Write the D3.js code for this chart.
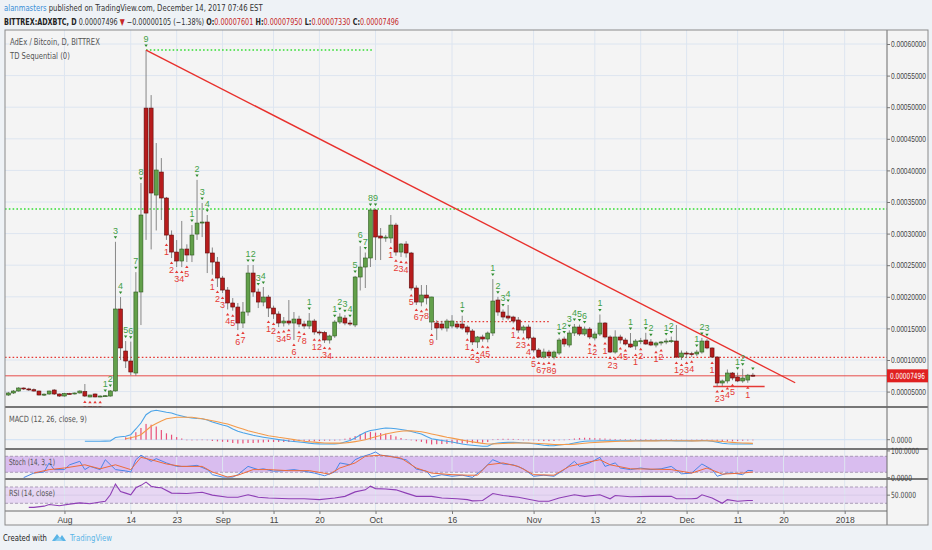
<!DOCTYPE html>
<html><head><meta charset="utf-8">
<script src="https://cdn.jsdelivr.net/npm/d3@7"></script>
<style>
body{margin:0;background:#eef2f6;}
svg{display:block;font-family:'Liberation Sans Narrow','DejaVu Sans Condensed','Liberation Sans',sans-serif;}
</style></head>
<body><svg id="c" width="932" height="550"></svg>
<script>
// ---------------- DATA (prices in satoshi = 1e-8 BTC) ----------------
const firstDay = "2017-07-21";
const opens = [4460,4780,5090,5570,5420,5300,5090,4460,4620,5250,4620,4300,4700,4650,4780,5000,4150,4620,4150,4300,
4300,5100,18070,11420,9840,7940,20760,49860,49860,36100,39740,35630,29770,27080,25660,27560,26610,29930,31670,31830,
26930,25500,22970,21070,19020,18380,15850,17590,23760,20760,19170,19960,18220,17280,15850,16170,15850,16480,15690,15380,
16170,14430,14350,13160,13800,16010,16640,15850,15540,23130,24710,26140,33730,29620,29300,29300,31350,27080,28350,26930,
21390,19170,20280,16010,15850,15690,15060,15380,15690,15690,15220,14590,12850,13640,13320,14270,19490,17590,16960,16800,
16330,14740,15220,13480,11580,10470,11260,10470,11100,13320,12370,14270,15220,14110,14900,13480,14110,15850,13640,11260,
13640,13160,12530,12210,13000,13160,12850,12370,12690,12850,13000,13000,10470,11100,11000,10950,11260,13000,11900,10470,
6360,6680,7940,7310,6680,6830,7601];
const highs = [4950,5250,5700,5650,5600,5500,5150,4700,5150,5400,4700,4800,4800,4850,5200,6200,4500,4700,4400,4450,
5250,28700,19960,13000,12900,23900,38000,59040,51920,44330,41950,35800,30500,28980,32000,28300,31350,38500,34840,32940,
27800,26300,23300,21550,19800,19020,19170,25030,25030,21300,21550,20300,18600,17700,16800,19490,17590,17000,16200,17430,
16500,14700,14600,14000,16300,17400,17100,16300,23300,28000,27000,33900,33900,30880,29800,32940,31700,28500,28800,27100,
21800,21860,21860,20000,16300,16200,16500,17100,16100,17000,15500,14900,13800,14000,14500,22810,20000,18000,18700,17000,
16800,15500,15600,13700,11900,11800,11600,11500,13500,13700,14700,15700,15600,15300,15200,14500,17200,16000,13900,14700,
14000,13500,14270,13300,13500,14300,13300,12900,13000,13400,13700,15540,11500,11400,11300,11600,13500,13300,12000,10600,
6900,8500,8100,8000,8600,7800,7950];
const lows = [4300,4620,5000,5250,5100,5000,4400,4300,4500,4460,4150,4200,4550,4550,4700,4150,4100,4100,4100,4200,
4200,5000,10000,8730,7600,7500,15530,29000,27500,30500,32150,29000,26130,24710,24700,25500,25500,29000,29450,23760,
23500,21550,20600,18000,17800,14740,15060,17000,20000,18220,18500,16800,16500,15200,15300,15500,13160,15200,14900,14900,
14000,13900,12700,12600,13500,15700,15500,15400,15200,21000,21390,24710,25820,25820,28700,28500,26500,26300,26200,21000,
18700,18500,18800,14740,13160,14700,14500,15000,14900,14800,14000,12370,11900,12900,12800,13800,17000,16300,16300,15800,
14300,14200,13200,11200,10300,10200,10300,10100,10800,12100,12000,13800,13800,13800,13300,13100,13800,13400,11100,11000,
12600,12300,11900,11600,12500,12400,12200,12000,12300,12500,12700,10300,10000,10300,10500,10600,11000,11700,10300,5800,
5880,6300,6800,6500,6400,6400,7330];
const closes = [4780,5090,5570,5420,5300,5090,4460,4600,5090,4620,4300,4700,4650,4780,5090,4300,4460,4150,4300,4350,
5100,18070,11900,9840,8100,20760,32940,33250,36420,40060,35630,29770,27080,25660,27560,26610,29770,31670,31830,26930,
25500,22970,21070,19020,18380,15850,17590,23760,20760,19170,19960,18220,17280,15850,16170,15850,16480,15690,15380,16170,
14430,14350,13160,13800,16010,16800,15850,15700,23130,24710,26140,33730,29460,29300,29450,31350,27080,28350,26930,21390,
19170,20280,19810,19970,15060,15060,16170,16170,15220,15060,14430,12850,13640,13320,14270,19330,17590,16800,16640,16170,
14740,15220,13480,11580,10470,11260,10630,11260,13160,12530,14270,15220,14110,14900,13640,14110,15850,13640,11260,13640,
13160,12530,12060,13000,13050,12530,12370,12690,12850,13000,13050,10470,11100,11000,10950,11260,13000,11900,10470,6360,
6680,7940,7150,6680,7150,7600,7496];

// TD Sequential setup counts: [day index, label]
const tdSell = [[19,"1"],[20,"2"],[21,"3"],[22,"4"],[23,"5"],[24,"6"],[25,"7"],[26,"8"],[27,"9"],[36,"1"],[37,"2"],[38,"3"],[39,"4"],
[47,"1"],[48,"2"],[49,"3"],[50,"4"],[59,"1"],[64,"1"],[65,"2"],[66,"3"],[67,"4"],[68,"5"],[69,"6"],[70,"7"],[71,"8"],[72,"9"],
[89,"1"],[95,"1"],[96,"2"],[97,"3"],[98,"4"],[108,"1"],[109,"2"],[110,"3"],[111,"4"],[112,"5"],[113,"6"],[116,"1"],[122,"1"],
[125,"1"],[126,"2"],[129,"1"],[130,"2"],[135,"1"],[136,"2"],[137,"3"],[143,"1"],[144,"2"],[146,""]];
const tdBuy = [[15,"6"],[16,"7"],[17,"8"],[18,"9"],[31,"1"],[32,"2"],[33,"3"],[34,"4"],[35,"5"],[40,"1"],[41,"2"],[42,"3"],[43,"4"],
[44,"5"],[45,"6"],[46,"7"],[51,"1"],[52,"2"],[53,"3"],[54,"4"],[55,"5"],[56,"6"],[57,"7"],[58,"8"],[60,"1"],[61,"2"],[62,"3"],[63,"4"],
[75,"1"],[76,"2"],[77,"3"],[78,"4"],[79,"5"],[80,"6"],[81,"7"],[82,"8"],[83,"9"],[90,"1"],[91,"2"],[92,"3"],[93,"4"],[94,"5"],
[99,"1"],[100,"2"],[101,"3"],[102,"4"],[103,"5"],[104,"6"],[105,"7"],[106,"8"],[107,"9"],[114,"1"],[115,"2"],[117,"1"],[118,"2"],
[119,"3"],[120,"4"],[121,"5"],[123,"1"],[124,"2"],[127,"1"],[128,"2"],[131,"1"],[132,"2"],[133,"3"],[134,"4"],[138,"1"],[139,"2"],
[140,"3"],[141,"4"],[142,"5"],[145,"1"]];

// Levels (satoshi)
const resistanceTop = {from:27, to:71.5, price:59040};
const resistanceMid = 33890;
const supportMid = {from:83.3, to:106, price:16057};
const supportLong = 10420;
const supportLow = {from:139, to:148.3, price:5800};
const lastPrice = 7496;
const trendLine = [[27,59040],[154.3,6400]];

// MACD (12,26,9) in satoshi
const macdStart = 15;
const macdLine = [-450,-450,-450,-420,-390,-360,620,810,950,1400,3000,4680,7000,7950,8230,7950,7670,7480,7000,6640,
6270,6080,5940,5880,5520,4960,4540,4120,3750,3000,2350,1930,1600,1230,950,700,480,250,30,-170,
-360,-500,-640,-780,-950,-1120,-1180,-1200,-1200,-1200,-1060,-640,-220,480,1320,2070,2580,2800,3050,3280,
3220,3080,2860,2630,2300,1930,1600,900,280,30,-220,-450,-640,-920,-1200,-1400,-1570,-1710,-1850,-1850,
-1120,-920,-810,-760,-730,-810,-920,-1010,-1120,-1340,-1540,-1650,-1680,-1480,-1340,-1200,-920,-640,-450,-360,
-360,-310,-280,-300,-290,-280,-290,-300,-280,-260,-260,-270,-270,-260,-250,-250,-320,-330,-330,-330,
-310,-250,-280,-450,-730,-980,-1120,-1200,-1220,-1210,-1200,-1200];
const signalStart = 23;
const signalLine = [280,530,900,1400,2580,3750,4540,5240,5880,6080,6270,6300,6300,6270,6080,5850,5600,5320,5010,4700,
4400,3920,3440,2970,2520,2160,1790,1460,1120,900,670,480,280,30,-220,-450,-560,-670,-810,-920,
-950,-950,-950,-920,-760,-530,-280,0,390,810,1200,1600,1880,2160,2380,2520,2480,2370,2210,1950,
1620,1300,1000,700,440,170,-110,-370,-600,-830,-1030,-1190,-1180,-1130,-1070,-1010,-950,-920,-920,-940,
-980,-1050,-1150,-1250,-1340,-1370,-1360,-1330,-1250,-1130,-1000,-870,-770,-680,-600,-540,-490,-450,-420,-390,
-370,-350,-340,-330,-320,-310,-300,-300,-300,-310,-310,-320,-320,-300,-300,-330,-410,-520,-640,-750,
-840,-910,-970,-1020];

// Stoch (14,3,1): [day index, value]
const stochK = [[3,0],[5,17],[7,21],[8,55],[9,30],[11,30],[12,48],[14,61],[15,30],[16,42],[18,30],[19,67],[21,30],[23,25],
[24,21],[25,67],[26,84],[28,61],[29,71],[31,55],[33,42],[35,42],[37,46],[39,30],[40,11],[42,2],[44,2],[45,11],[47,42],[49,30],
[50,33],[52,24],[54,26],[56,30],[58,24],[60,17],[62,7],[64,21],[65,55],[67,48],[68,67],[69,76],[71,88],[72,96],[73,84],[75,80],
[77,70],[78,67],[80,32],[82,24],[83,2],[85,11],[87,5],[89,9],[91,1],[93,30],[95,67],[97,51],[99,48],[101,33],[103,5],[105,9],
[107,5],[109,30],[111,61],[112,42],[114,55],[116,76],[117,42],[119,55],[120,36],[122,30],[124,36],[126,30],[128,33],[130,42],
[132,14],[134,17],[136,51],[138,30],[139,5],[141,17],[142,17],[144,11],[145,27],[146,26]];
const stochD = [[5,17],[8,30],[11,36],[15,48],[18,33],[21,48],[24,30],[26,76],[28,67],[31,51],[34,42],[38,42],[40,21],[43,2],
[45,9],[48,30],[51,30],[55,26],[59,26],[63,13],[65,36],[68,55],[70,80],[73,84],[77,73],[80,36],[83,17],[87,11],[90,9],[92,9],
[94,48],[97,55],[100,42],[103,11],[107,9],[110,42],[113,55],[116,67],[118,48],[122,33],[126,32],[130,30],[134,17],[137,36],
[140,13],[144,17],[146,21]];

// RSI (14): [day index, value]
const rsi = [[4,20],[5,20],[7,23],[8,27],[10,24],[12,28],[14,31],[16,29],[18,33],[19,35],[20,51],[21,77],[22,59],[23,55],
[24,51],[25,68],[26,74],[27,82],[28,72],[29,69],[30,68],[32,55],[35,54],[38,57],[40,50],[43,45],[45,45],[47,51],[49,45],[51,43],
[55,41],[58,41],[61,39],[64,43],[66,47],[68,58],[70,63],[71,72],[72,66],[74,65],[76,63],[78,55],[80,47],[83,47],[85,43],[88,41],
[90,39],[91,36],[93,37],[95,54],[97,49],[100,45],[104,35],[106,35],[108,43],[111,51],[113,47],[116,51],[118,41],[119,49],
[122,46],[126,47],[130,47],[131,41],[134,41],[135,42],[136,51],[138,43],[140,30],[141,39],[143,35],[145,37],[146,37]];

const priceTicks = [5000,10000,15000,20000,25000,30000,35000,40000,45000,50000,55000,60000];
const timeTickDates = ["2017-08-01","2017-08-14","2017-08-23","2017-09-01","2017-09-11","2017-09-20","2017-10-01","2017-10-16",
"2017-11-01","2017-11-13","2017-11-22","2017-12-01","2017-12-11","2017-12-20","2018-01-01"];
const timeTickLabels = ["Aug","14","23","Sep","11","20","Oct","16","Nov","13","22","Dec","11","20","2018"];

// ---------------- DRAWING ----------------
const svg = d3.select("#c");
const DAY = 864e5;
const t0 = Date.parse(firstDay + "T00:00:00Z");
const dayDate = i => new Date(t0 + i*DAY);
const L = 5, R = 887, FR = 928, T = 30, B = 525;
const pMain = [30,407], pMacd = [407,449], pStoch = [449,479], pRsi = [479,511];

const x = d3.scaleUtc().domain([dayDate(-0.66), dayDate(172.3)]).range([L, R]);
const xi = i => x(dayDate(i));
const yMain = d3.scaleLinear().domain([2563, 62215]).range([pMain[1], pMain[0]]);
const yMacd = d3.scaleLinear().domain([-2604, 9156]).range([pMacd[1], pMacd[0]]);
const yStoch = d3.scaleLinear().domain([-5.25, 107.25]).range([pStoch[1], pStoch[0]]);
const yRsi = d3.scaleLinear().domain([11.1, 89.6]).range([pRsi[1], pRsi[0]]);

const grid = "#dde5f0";
function fitScale(t, x0, w){
  const n = t.node(); const l = n.getComputedTextLength();
  const k = l > 0 ? w / l : 1;
  const y = +t.attr("y") || 0; t.attr("x",0).attr("y",0).attr("transform",`translate(${x0},${y}) scale(${k},1)`);
  return t;
}

// backgrounds
svg.append("rect").attr("width",932).attr("height",550).attr("fill","#eef2f6");
svg.append("rect").attr("x",L).attr("y",T).attr("width",FR-L).attr("height",B-T).attr("fill","#f4f4f4");

// clip paths
const defs = svg.append("defs");
[["cMain",pMain],["cMacd",pMacd],["cStoch",pStoch],["cRsi",pRsi]].forEach(([id,p])=>{
  defs.append("clipPath").attr("id",id).append("rect").attr("x",L).attr("y",p[0]).attr("width",R-L).attr("height",p[1]-p[0]);
});

// Stoch & RSI bands
svg.append("rect").attr("x",L).attr("width",R-L).attr("y",yStoch(80)).attr("height",yStoch(20)-yStoch(80)).attr("fill","#d9bdef");
svg.append("rect").attr("x",L).attr("width",R-L).attr("y",yRsi(70)).attr("height",yRsi(30)-yRsi(70)).attr("fill","#e7d7f3");

// vertical grid
const tDates = timeTickDates.map(s => new Date(s + "T00:00:00Z"));
svg.append("g").selectAll("line").data(tDates).join("line")
  .attr("x1",d=>x(d)).attr("x2",d=>x(d)).attr("y1",T).attr("y2",pRsi[1]).attr("stroke",grid).attr("stroke-width",1);
// horizontal grid main
svg.append("g").selectAll("line").data(priceTicks).join("line")
  .attr("x1",L).attr("x2",R).attr("y1",d=>yMain(d)).attr("y2",d=>yMain(d)).attr("stroke",grid);
svg.append("line").attr("x1",L).attr("x2",R).attr("y1",yMacd(0)).attr("y2",yMacd(0)).attr("stroke","#cfe0f4");
svg.append("line").attr("x1",L).attr("x2",R).attr("y1",yRsi(50)).attr("y2",yRsi(50)).attr("stroke","#d7cbe8");
[[yStoch,80],[yStoch,20],[yRsi,70],[yRsi,30]].forEach(([s,v])=>{
  svg.append("line").attr("x1",L).attr("x2",R).attr("y1",s(v)).attr("y2",s(v))
    .attr("stroke","#9a8aa8").attr("stroke-dasharray","3,2").attr("stroke-width",0.8);
});

// ---- main pane ----
const gm = svg.append("g").attr("clip-path","url(#cMain)");
gm.append("line").attr("x1",L).attr("x2",R).attr("y1",yMain(resistanceMid)).attr("y2",yMain(resistanceMid))
  .attr("stroke","#33dd33").attr("stroke-width",1.4).attr("stroke-dasharray","1.6,2.2");
gm.append("line").attr("x1",xi(resistanceTop.from)).attr("x2",xi(resistanceTop.to))
  .attr("y1",yMain(resistanceTop.price)).attr("y2",yMain(resistanceTop.price))
  .attr("stroke","#33dd33").attr("stroke-width",1.4).attr("stroke-dasharray","1.6,2.2");
gm.append("line").attr("x1",L).attr("x2",R).attr("y1",yMain(supportLong)).attr("y2",yMain(supportLong))
  .attr("stroke","#e53935").attr("stroke-width",1.3).attr("stroke-dasharray","1.6,2.2");
gm.append("line").attr("x1",xi(supportMid.from)).attr("x2",xi(supportMid.to))
  .attr("y1",yMain(supportMid.price)).attr("y2",yMain(supportMid.price))
  .attr("stroke","#e53935").attr("stroke-width",1.3).attr("stroke-dasharray","1.6,2.2");
gm.append("line").attr("x1",L).attr("x2",R).attr("y1",yMain(lastPrice)).attr("y2",yMain(lastPrice))
  .attr("stroke","#e53935").attr("stroke-width",0.9);
gm.append("line").attr("x1",xi(supportLow.from)-4).attr("x2",xi(supportLow.to))
  .attr("y1",yMain(supportLow.price)).attr("y2",yMain(supportLow.price))
  .attr("stroke","#e53935").attr("stroke-width",1.6);

// candles
const idx = d3.range(opens.length);
const bw = 3.9;
gm.append("g").selectAll("line").data(idx).join("line")
  .attr("x1",i=>xi(i)).attr("x2",i=>xi(i)).attr("y1",i=>yMain(highs[i])).attr("y2",i=>yMain(lows[i]))
  .attr("stroke","#7a7a7a").attr("stroke-width",0.9);
gm.append("g").selectAll("rect").data(idx).join("rect")
  .attr("x",i=>xi(i)-bw/2).attr("width",bw)
  .attr("y",i=>yMain(Math.max(opens[i],closes[i])))
  .attr("height",i=>Math.max(1,Math.abs(yMain(opens[i])-yMain(closes[i]))))
  .attr("fill",i=>closes[i]>=opens[i] ? "#62a04a" : "#b71c1c")
  .attr("stroke",i=>closes[i]>=opens[i] ? "#2f5a20" : "#5e0b0b").attr("stroke-width",0.6);

// trend line
gm.append("line").attr("x1",xi(trendLine[0][0])).attr("y1",yMain(trendLine[0][1]))
  .attr("x2",xi(trendLine[1][0])).attr("y2",yMain(trendLine[1][1]))
  .attr("stroke","#e8302c").attr("stroke-width",1.4);

// TD labels
const tdG = gm.append("g").style("font-family","'Liberation Sans',sans-serif").style("font-size","9px");
tdSell.forEach(([i,l])=>{
  const cx = xi(i), yh = yMain(highs[i]);
  tdG.append("path").attr("d",`M${cx-1.7},${yh-5.5}L${cx+1.7},${yh-5.5}L${cx},${yh-3}Z`).attr("fill","#2e8b2e");
  tdG.append("text").attr("x",cx).attr("y",yh-8).attr("text-anchor","middle").attr("fill","#43a047").text(l);
});
tdBuy.forEach(([i,l])=>{
  const cx = xi(i), yl = yMain(lows[i]);
  tdG.append("path").attr("d",`M${cx-1.7},${yl+6}L${cx+1.7},${yl+6}L${cx},${yl+3.5}Z`).attr("fill","#e53935");
  tdG.append("text").attr("x",cx).attr("y",yl+15).attr("text-anchor","middle").attr("fill","#e53935").text(l);
});

// ---- MACD pane ----
const gmacd = svg.append("g").attr("clip-path","url(#cMacd)");
const histIdx = d3.range(signalStart, macdStart + macdLine.length);
gmacd.append("g").selectAll("rect").data(histIdx).join("rect")
  .attr("x",i=>xi(i)-0.6).attr("width",1.2)
  .attr("y",i=>{const h = macdLine[i-macdStart]-signalLine[i-signalStart]; return yMacd(Math.max(0,h));})
  .attr("height",i=>{const h = macdLine[i-macdStart]-signalLine[i-signalStart]; return Math.max(0.6,Math.abs(yMacd(h)-yMacd(0)));})
  .attr("fill","#e8507a");
const lineGen = (ys) => d3.line().x(d=>xi(d[0])).y(d=>ys(d[1]));
gmacd.append("path").datum(macdLine.map((v,k)=>[k+macdStart,v])).attr("d",lineGen(yMacd))
  .attr("fill","none").attr("stroke","#4aa3e8").attr("stroke-width",1.1);
gmacd.append("path").datum(signalLine.map((v,k)=>[k+signalStart,v])).attr("d",lineGen(yMacd))
  .attr("fill","none").attr("stroke","#f39a4a").attr("stroke-width",1.1);

// ---- Stoch pane ----
const gst = svg.append("g").attr("clip-path","url(#cStoch)");
gst.append("path").datum(stochK).attr("d",lineGen(yStoch)).attr("fill","none").attr("stroke","#4a86e8").attr("stroke-width",1);
gst.append("path").datum(stochD).attr("d",lineGen(yStoch)).attr("fill","none").attr("stroke","#ef6b3a").attr("stroke-width",1);

// ---- RSI pane ----
const grs = svg.append("g").attr("clip-path","url(#cRsi)");
grs.append("path").datum(rsi).attr("d",lineGen(yRsi)).attr("fill","none").attr("stroke","#8e3fb5").attr("stroke-width",1.1);

// ---- separators & frame ----
[pMain[1],pMacd[1],pStoch[1]].forEach(y=>{
  svg.append("line").attr("x1",L).attr("x2",FR).attr("y1",y).attr("y2",y).attr("stroke","#4d4d4d").attr("stroke-width",1.3);
});
svg.append("line").attr("x1",L).attr("x2",R).attr("y1",pRsi[1]).attr("y2",pRsi[1]).attr("stroke","#6a6a6a").attr("stroke-width",1);
svg.append("line").attr("x1",R).attr("x2",R).attr("y1",T).attr("y2",B).attr("stroke","#6a6a6a").attr("stroke-width",1);
svg.append("rect").attr("x",L).attr("y",T).attr("width",FR-L).attr("height",B-T).attr("fill","none").attr("stroke","#8a8a8a");

// ---- axes ----
const axR = svg.append("g").attr("transform",`translate(${R},0)`)
  .call(d3.axisRight(yMain).tickValues(priceTicks).tickSize(3).tickFormat(d=>(d/1e8).toFixed(8)));
axR.select(".domain").remove();
axR.selectAll("line").attr("stroke","#777");
axR.selectAll("text").attr("fill","#444").style("font-size","8.5px").each(function(){
  fitScale(d3.select(this), 4, 35);
});
function sideLabel(y, txt, w){
  svg.append("line").attr("x1",R).attr("x2",R+3).attr("y1",y).attr("y2",y).attr("stroke","#777");
  const t = svg.append("text").attr("y",y+3).attr("fill","#444").style("font-size","8.5px").text(txt);
  fitScale(t, R+4, w);
}
sideLabel(yMacd(0),"0.0000",21);
sideLabel(yStoch(100),"100.0000",28);
sideLabel(yStoch(0),"0.0000",21);
sideLabel(yRsi(50),"50.0000",25);

// last price box
const lpY = yMain(lastPrice);
svg.append("rect").attr("x",R).attr("y",lpY-6.5).attr("width",FR-R).attr("height",13).attr("fill","#e02020");
const lpT = svg.append("text").attr("y",lpY+3).attr("fill","#fff").style("font-size","8.5px").text((lastPrice/1e8).toFixed(8));
fitScale(lpT, R+3, 35);

const axB = svg.append("g").attr("transform",`translate(0,${pRsi[1]})`)
  .call(d3.axisBottom(x).tickValues(tDates).tickSize(3).tickFormat((d,i)=>timeTickLabels[i]));
axB.select(".domain").remove();
axB.selectAll("line").attr("stroke","#777");
axB.selectAll("text").attr("fill","#444").style("font-size","8.5px").attr("y",6);

// ---- titles ----
function label(x0,y,txt,w,col,size){
  const t = svg.append("text").attr("x",x0).attr("y",y).attr("fill",col).style("font-size",size+"px").text(txt);
  return fitScale(t,x0,w);
}
label(10,45,"AdEx / Bitcoin, D, BITTREX",90,"#555",8.5);
label(10,59,"TD Sequential (0)",60,"#555",8.5);
label(9,422,"MACD (12, 26, close, 9)",78,"#555",8.5);
label(9,465,"Stoch (14, 3, 1)",46,"#555",8.5);
label(9,496,"RSI (14, close)",46,"#555",8.5);

// header line 1
const h1 = svg.append("text").attr("x",4).attr("y",11).style("font-size","9px");
h1.append("tspan").attr("fill","#3a8fd6").text("alanmasters");
h1.append("tspan").attr("fill","#333").text(" published on TradingView.com, December 14, 2017 07:46 EST");
fitScale(h1,4,259);
// header line 2
const h2 = svg.append("text").attr("x",4).attr("y",25).style("font-size","9px");
h2.append("tspan").attr("fill","#222").attr("font-weight","bold").text("BITTREX:ADXBTC, D");
h2.append("tspan").attr("fill","#333").text(" 0.00007496 ");
h2.append("tspan").attr("fill","#c62828").text("▼");
h2.append("tspan").attr("fill","#333").text(" −0.00000105 (−1.38%) ");
[["O:","0.00007601"],[" H:","0.00007950"],[" L:","0.00007330"],[" C:","0.00007496"]].forEach(([a,b])=>{
  h2.append("tspan").attr("fill","#222").attr("font-weight","bold").text(a);
  h2.append("tspan").attr("fill","#c62828").text(b);
});
fitScale(h2,4,396);

// footer
label(3,541,"Created with",44,"#222",9.5);
const logo = svg.append("g").attr("transform","translate(52,532)");
logo.append("path").attr("d","M0,9 L5,2 L8,6 L10,3 L14,9 Z").attr("fill","#5ab4e6");
logo.append("path").attr("d","M3,9 L7,5 L11,9 Z").attr("fill","#8fd0f2");
label(70,541,"TradingView",42,"#5ab4e6",9.5);
</script></body></html>
